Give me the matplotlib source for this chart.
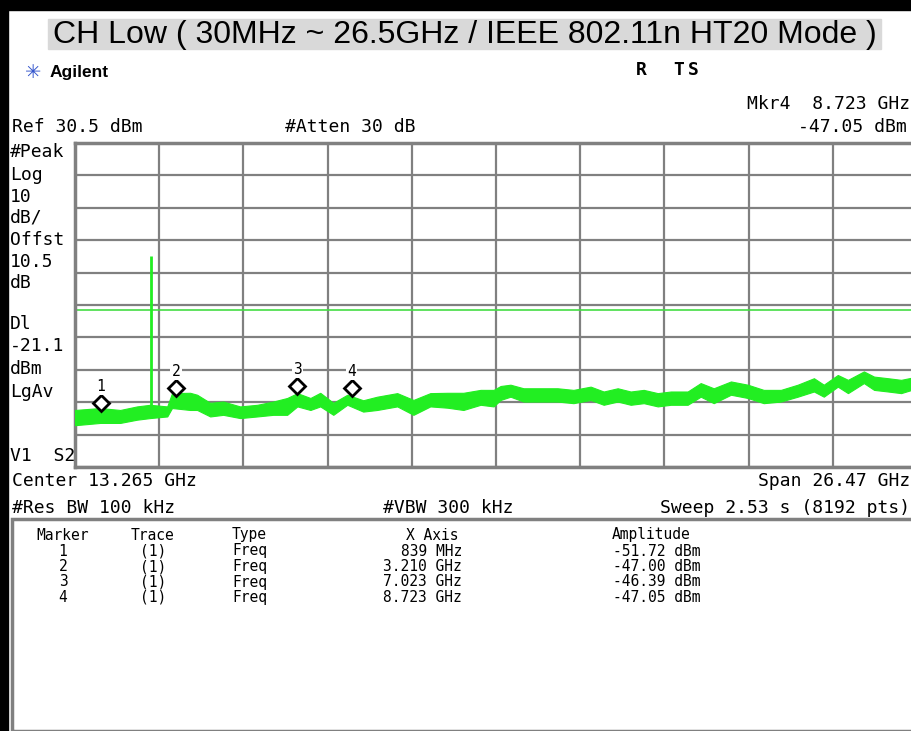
import matplotlib.pyplot as plt
import numpy as np
from matplotlib.patches import Rectangle
from matplotlib.transforms import ScaledTranslation

# trace envelope (GHz, dBm)
freq_ghz = [0.03, 0.82, 1.45, 1.98, 2.39, 2.93, 3.08, 3.65, 3.87, 4.28, 4.69, 5.22,
            5.76, 6.26, 6.70, 7.02, 7.43, 7.74, 8.15, 8.59, 9.09, 9.53, 10.16, 10.67,
            11.20, 11.74, 12.24, 12.78, 13.19, 13.41, 13.72, 14.13, 14.67, 15.20, 15.70,
            16.24, 16.65, 17.09, 17.50, 17.91, 18.35, 18.76, 19.29, 19.70, 20.11, 20.65,
            21.18, 21.68, 22.22, 22.75, 23.26, 23.57, 24.01, 24.33, 24.83, 25.15, 25.59,
            26.00, 26.50]
upper_dbm = [-51.9, -51.3, -51.9, -50.8, -50.3, -50.8, -46.7, -46.6, -47.2, -49.7, -49.3, -50.8,
             -50.3, -49.3, -48.2, -46.7, -48.2, -46.6, -49.7, -47.2, -48.9, -47.8, -46.7, -48.8,
             -46.7, -46.6, -46.6, -45.7, -45.7, -44.5, -44.1, -45.2, -45.2, -45.2, -45.7,
             -44.7, -46.2, -45.2, -46.2, -45.7, -46.7, -46.2, -46.2, -43.6, -45.2, -43.1,
             -44.1, -45.7, -45.7, -44.1, -42.1, -44.1, -41.1, -42.6, -40.0, -41.6, -42.1,
             -42.6, -41.6]
lower_dbm = [-56.6, -55.9, -55.9, -54.9, -54.4, -53.9, -51.3, -51.9, -51.9, -53.9, -53.4, -54.4,
             -53.9, -53.4, -53.4, -50.8, -51.9, -50.8, -53.4, -50.3, -52.4, -51.9, -50.8, -53.4,
             -50.8, -51.2, -51.9, -50.3, -50.8, -48.8, -47.8, -49.3, -49.3, -49.3, -49.8,
             -48.8, -50.3, -49.3, -50.3, -49.8, -50.8, -50.3, -50.3, -47.8, -49.8, -47.2,
             -48.2, -49.8, -49.3, -47.8, -46.2, -47.8, -44.7, -46.7, -43.6, -45.7, -46.2,
             -46.7, -45.2]

carrier_ghz = 2.412
carrier_dbm = -4.3
display_line_dbm = -21.1
ref_dbm = 30.5
start_ghz, stop_ghz = 0.03, 26.5

marker_ids = ["1", "2", "3", "4"]
marker_ghz = [0.839, 3.210, 7.023, 8.723]
marker_dbm = [-51.72, -47.00, -46.39, -47.05]
marker_freq_txt = ["839 MHz", "3.210 GHz", "7.023 GHz", "8.723 GHz"]
marker_amp_txt = ["-51.72 dBm", "-47.00 dBm", "-46.39 dBm", "-47.05 dBm"]

W, H = 912, 731
fig = plt.figure(figsize=(W / 100, H / 100), dpi=100)
fig.patch.set_facecolor("white")

def px(x, y):
    return x / W, 1 - y / H

def label(x, y, s, ha="left", size=13, **kw):
    fig.text(*px(x, y), s, ha=ha, va="center", fontsize=size,
             family="DejaVu Sans Mono", color="black", **kw)

# frame bars
fig.patches.append(Rectangle((0, 1 - 10 / H), 1, 10 / H, transform=fig.transFigure,
                             color="black", zorder=0))
fig.patches.append(Rectangle((0, 0), 8 / W, 1, transform=fig.transFigure,
                             color="black", zorder=0))

# title band
fig.patches.append(Rectangle(px(48, 49), 833 / W, 30 / H, transform=fig.transFigure,
                             color="#d9d9d9", zorder=0))
fig.text(*px(465, 35), "CH Low ( 30MHz ~ 26.5GHz / IEEE 802.11n HT20 Mode )",
         ha="center", va="center", fontsize=23, family="Liberation Sans")

# header
fig.text(*px(33, 72), "\u2733", ha="center", va="center", fontsize=14, color="#3355cc")
fig.text(*px(50, 72), "Agilent", ha="left", va="center", fontsize=12.5,
         weight="bold", family="Liberation Sans")
label(636, 70, "R", weight="bold")
label(673, 70, "T", weight="bold")
label(688, 70, "S", weight="bold")
label(910, 104, "Mkr4  8.723 GHz", ha="right")
label(907, 127, "-47.05 dBm", ha="right")
label(12, 127, "Ref 30.5 dBm")
label(285, 127, "#Atten 30 dB")

left_lines = [("#Peak", 152), ("Log", 175), ("10", 197), ("dB/", 218), ("Offst", 240),
              ("10.5", 262), ("dB", 283), ("Dl", 324), ("-21.1", 346), ("dBm", 369),
              ("LgAv", 392), ("V1  S2", 456)]
for s, y in left_lines:
    label(10, y, s)

label(12, 481, "Center 13.265 GHz")
label(910, 481, "Span 26.47 GHz", ha="right")
label(12, 508, "#Res BW 100 kHz")
label(383, 508, "#VBW 300 kHz")
label(910, 508, "Sweep 2.53 s (8192 pts)", ha="right")

# plot area
l, r, t, b = 75, 917, 143, 467
ax = fig.add_axes([l / W, 1 - b / H, (r - l) / W, (b - t) / H])
ax.set_xlim(start_ghz, stop_ghz)
ax.set_ylim(ref_dbm - 100, ref_dbm)
ax.set_xticks(np.linspace(start_ghz, stop_ghz, 11))
ax.set_yticks(np.linspace(ref_dbm - 100, ref_dbm, 11))
ax.tick_params(length=0, labelbottom=False, labelleft=False)
ax.grid(True, color="#808080", lw=1.6)
ax.set_axisbelow(True)
for sp in ax.spines.values():
    sp.set_color("#808080")
    sp.set_linewidth(2.5)

green = "#22ee22"
ax.axhline(display_line_dbm, color="#44dd44", lw=1.2, zorder=2)
ax.fill_between(freq_ghz, lower_dbm, upper_dbm, color=green, lw=0.8, edgecolor=green, zorder=3)
base = np.interp(carrier_ghz, freq_ghz, lower_dbm)
ax.vlines(carrier_ghz, base, carrier_dbm, color=green, lw=2, zorder=3)

lift = ax.transData + ScaledTranslation(0, 6 / 100, fig.dpi_scale_trans)
for mid, f, a in zip(marker_ids, marker_ghz, marker_dbm):
    ax.plot([f], [a], marker="D", ms=8, mfc="white", mec="black", mew=2,
            linestyle="none", zorder=5, transform=lift)
    ax.annotate(mid, (f, a), xytext=(0, 16.5), textcoords="offset points",
                ha="center", va="center", fontsize=10.5, family="DejaVu Sans Mono",
                bbox=dict(boxstyle="square,pad=0.1", fc="white", ec="none"), zorder=6)

# marker table
fig.patches.append(Rectangle(px(12, 731), 910 / W, (731 - 519) / H, transform=fig.transFigure,
                             fill=False, ec="#808080", lw=2.5, zorder=1))
ts = 10.5
label(63, 535, "Marker", ha="center", size=ts)
label(153, 535, "Trace", ha="center", size=ts)
label(232, 535, "Type", size=ts)
label(432, 535, "X Axis", ha="center", size=ts)
label(651, 535, "Amplitude", ha="center", size=ts)
for i, mid in enumerate(marker_ids):
    y = 551 + i * 15.5
    label(63, y, mid, ha="center", size=ts)
    label(153, y, "(1)", ha="center", size=ts)
    label(232, y, "Freq", size=ts)
    label(462, y, marker_freq_txt[i], ha="right", size=ts)
    label(613, y, marker_amp_txt[i], size=ts)

fig.savefig("out.png", dpi=100)
